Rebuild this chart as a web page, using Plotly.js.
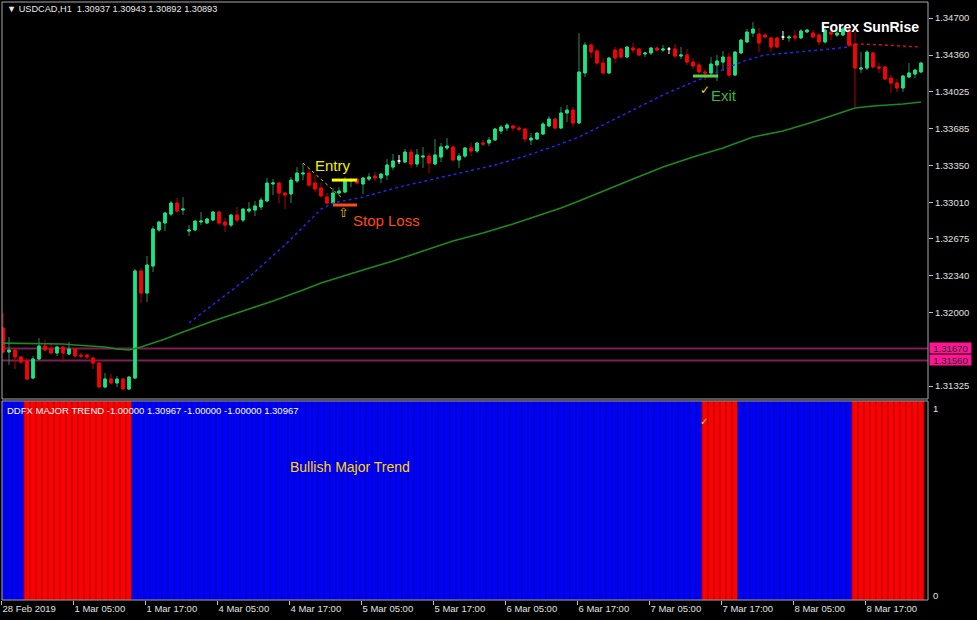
<!DOCTYPE html>
<html><head><meta charset="utf-8">
<script src="https://cdn.plot.ly/plotly-3.0.1.min.js"></script>
<style>html,body{margin:0;padding:0;background:#000;}#chart{width:977px;height:620px;}</style>
</head><body><div id="chart"></div>
<script>
// ---- DATA (USDCAD H1, bar index 0..153) ----
const openP = [1.31857,1.31637,1.31655,1.31591,1.31554,1.31398,1.31573,1.31692,1.31664,1.31628,
1.31683,1.31618,1.31664,1.31609,1.31609,1.31582,1.31536,1.31316,1.31389,1.31353,
1.31389,1.31298,1.31398,1.32380,1.32178,1.32425,1.32756,1.32820,1.32902,1.33003,
1.32939,1.32746,1.32756,1.32829,1.32820,1.32847,1.32921,1.32829,1.32801,1.32893,
1.32847,1.32930,1.32939,1.32967,1.33022,1.33178,1.33187,1.33095,1.33086,1.33205,
1.33269,1.33278,1.33187,1.33141,1.33058,1.33003,1.33095,1.33104,1.33205,1.33223,
1.33178,1.33223,1.33251,1.33233,1.33260,1.33333,1.33389,1.33379,1.33471,1.33361,
1.33425,1.33434,1.33361,1.33425,1.33508,1.33517,1.33398,1.33434,1.33508,1.33480,
1.33554,1.33554,1.33581,1.33664,1.33691,1.33710,1.33691,1.33682,1.33581,1.33590,
1.33636,1.33710,1.33774,1.33691,1.33829,1.33856,1.33737,1.34196,1.34452,1.34397,
1.34287,1.34196,1.34406,1.34416,1.34342,1.34425,1.34416,1.34370,1.34379,1.34425,
1.34406,1.34416,1.34416,1.34351,1.34361,1.34296,1.34269,1.34205,1.34196,1.34269,
1.34296,1.34342,1.34177,1.34379,1.34480,1.34562,1.34553,1.34544,1.34517,1.34517,
1.34526,1.34517,1.34535,1.34517,1.34572,1.34562,1.34544,1.34480,1.34572,1.34544,
1.34544,1.34590,1.34462,1.34232,1.34241,1.34379,1.34251,1.34251,1.34150,1.34104,
1.34058,1.34159,1.34186,1.34205];
const highP = [1.31994,1.31774,1.31673,1.31600,1.31582,1.31600,1.31765,1.31747,1.31710,1.31692,
1.31692,1.31729,1.31673,1.31628,1.31618,1.31591,1.31545,1.31444,1.31435,1.31417,
1.31398,1.31417,1.32398,1.32407,1.32517,1.32792,1.32838,1.32921,1.33022,1.33049,
1.33058,1.32801,1.32847,1.32921,1.32866,1.32930,1.32930,1.32866,1.32902,1.32967,
1.32957,1.33012,1.33022,1.33058,1.33233,1.33223,1.33196,1.33104,1.33242,1.33333,
1.33370,1.33324,1.33260,1.33187,1.33095,1.33141,1.33150,1.33242,1.33233,1.33233,
1.33242,1.33278,1.33288,1.33278,1.33407,1.33453,1.33444,1.33499,1.33499,1.33499,
1.33517,1.33462,1.33590,1.33554,1.33599,1.33526,1.33462,1.33517,1.33554,1.33563,
1.33581,1.33609,1.33691,1.33719,1.33737,1.33719,1.33710,1.33691,1.33645,1.33654,
1.33746,1.33801,1.33783,1.33884,1.33902,1.33884,1.34562,1.34480,1.34462,1.34416,
1.34333,1.34342,1.34434,1.34425,1.34443,1.34471,1.34425,1.34388,1.34434,1.34434,
1.34452,1.34434,1.34462,1.34434,1.34416,1.34333,1.34296,1.34232,1.34342,1.34361,
1.34397,1.34379,1.34397,1.34507,1.34599,1.34663,1.34608,1.34562,1.34526,1.34526,
1.34581,1.34544,1.34590,1.34599,1.34599,1.34590,1.34562,1.34617,1.34617,1.34590,
1.34617,1.34617,1.34572,1.34388,1.34406,1.34388,1.34287,1.34260,1.34177,1.34141,
1.34177,1.34287,1.34232,1.34296];
const lowP = [1.31618,1.31518,1.31481,1.31527,1.31380,1.31389,1.31563,1.31646,1.31618,1.31600,
1.31545,1.31609,1.31591,1.31582,1.31573,1.31481,1.31307,1.31307,1.31343,1.31316,
1.31288,1.31288,1.31389,1.32086,1.32095,1.32370,1.32737,1.32746,1.32884,1.32912,
1.32893,1.32701,1.32746,1.32801,1.32811,1.32838,1.32801,1.32737,1.32783,1.32829,
1.32829,1.32912,1.32884,1.32939,1.33012,1.33077,1.33003,1.32948,1.33003,1.33187,
1.33214,1.33150,1.33104,1.33058,1.32994,1.32994,1.33077,1.33095,1.33150,1.33178,
1.33086,1.33205,1.33205,1.33187,1.33214,1.33306,1.33361,1.33370,1.33324,1.33333,
1.33324,1.33278,1.33352,1.33379,1.33489,1.33389,1.33324,1.33416,1.33434,1.33462,
1.33526,1.33526,1.33572,1.33636,1.33664,1.33664,1.33664,1.33563,1.33535,1.33581,
1.33627,1.33700,1.33682,1.33682,1.33746,1.33700,1.33728,1.34159,1.34333,1.34269,
1.34186,1.34186,1.34287,1.34333,1.34333,1.34379,1.34351,1.34342,1.34361,1.34397,
1.34388,1.34370,1.34333,1.34324,1.34269,1.34232,1.34196,1.34131,1.34177,1.34122,
1.34214,1.34159,1.34168,1.34370,1.34471,1.34526,1.34388,1.34517,1.34388,1.34425,
1.34498,1.34480,1.34489,1.34507,1.34562,1.34517,1.34452,1.34471,1.34498,1.34526,
1.34535,1.34434,1.33884,1.34196,1.34223,1.34241,1.34196,1.34131,1.34012,1.34021,
1.34021,1.34150,1.34150,1.34196];
const closeP = [1.31637,1.31655,1.31591,1.31545,1.31389,1.31573,1.31692,1.31655,1.31628,1.31683,
1.31628,1.31664,1.31600,1.31600,1.31591,1.31536,1.31316,1.31389,1.31353,1.31389,
1.31298,1.31407,1.32380,1.32178,1.32435,1.32765,1.32829,1.32912,1.33003,1.32930,
1.32948,1.32756,1.32838,1.32838,1.32857,1.32921,1.32820,1.32801,1.32893,1.32847,
1.32948,1.32948,1.32976,1.33031,1.33187,1.33187,1.33095,1.33077,1.33214,1.33278,
1.33278,1.33168,1.33132,1.33068,1.33003,1.33095,1.33113,1.33214,1.33214,1.33187,
1.33233,1.33242,1.33233,1.33269,1.33352,1.33389,1.33389,1.33471,1.33361,1.33444,
1.33434,1.33370,1.33444,1.33517,1.33526,1.33398,1.33434,1.33508,1.33480,1.33554,
1.33544,1.33581,1.33682,1.33700,1.33719,1.33691,1.33682,1.33590,1.33599,1.33645,
1.33728,1.33774,1.33691,1.33829,1.33856,1.33737,1.34205,1.34452,1.34388,1.34287,
1.34196,1.34333,1.34333,1.34342,1.34434,1.34406,1.34361,1.34379,1.34425,1.34406,
1.34416,1.34416,1.34351,1.34361,1.34296,1.34260,1.34205,1.34196,1.34278,1.34306,
1.34342,1.34177,1.34388,1.34498,1.34572,1.34599,1.34471,1.34526,1.34434,1.34434,
1.34526,1.34526,1.34517,1.34581,1.34590,1.34526,1.34480,1.34590,1.34553,1.34562,
1.34599,1.34452,1.34241,1.34241,1.34388,1.34251,1.34241,1.34141,1.34104,1.34058,
1.34168,1.34196,1.34223,1.34287];

// slow MA (green, solid)
const slowMaBars = [0,10,12,17,19,21,23,25,27,30,35,40,45,50,53,60,65,70,75,80,85,90,93,96,100,105,110,115,120,125,130,135,140,142,145,150,153];
const slowMaValues = [1.31719,1.31710,1.31701,1.31683,1.31664,1.31655,1.31683,1.31719,1.31756,1.31820,1.31921,1.32013,1.32105,1.32205,1.32270,1.32389,1.32471,1.32563,1.32655,1.32728,1.32811,1.32902,1.32957,1.33022,1.33113,1.33223,1.33333,1.33425,1.33508,1.33609,1.33664,1.33746,1.33838,1.33875,1.33893,1.33911,1.33930];
// trend MA, bullish part (blue dotted)
const trendMaBlueBars = [31,36,41,47,50,53,55,60,66,71,77,82,87,92,96,100,105,110,115,118,121,124,127,131,136,141];
const trendMaBlueValues = [1.31903,1.32114,1.32325,1.32618,1.32783,1.32948,1.33003,1.33058,1.33150,1.33214,1.33288,1.33352,1.33434,1.33526,1.33609,1.33719,1.33856,1.33994,1.34113,1.34177,1.34251,1.34315,1.34361,1.34379,1.34406,1.34434];
// trend MA, bearish part (red dotted)
const trendMaRedBars = [141,143,147,150,153];
const trendMaRedValues = [1.34452,1.34462,1.34452,1.34443,1.34434];

// DDFX major trend: +1 bullish (blue), -1 bearish (red)
const majorTrend = [];
for (let i = 0; i < 154; i++) majorTrend.push((i>=4&&i<=21)||(i>=117&&i<=122)||(i>=142) ? -1 : 1);

const priceTicks = [1.34700,1.34360,1.34025,1.33685,1.33350,1.33010,1.32675,1.32340,1.32000,1.31325];
const timeTickBars = [0,12,24,36,48,60,72,84,96,108,120,132,144];
const timeTickLabels = ["28 Feb 2019","1 Mar 05:00","1 Mar 17:00","4 Mar 05:00","4 Mar 17:00","5 Mar 05:00","5 Mar 17:00","6 Mar 05:00","6 Mar 17:00","7 Mar 05:00","7 Mar 17:00","8 Mar 05:00","8 Mar 17:00"];
const levelLines = [1.31670, 1.31560];

// ---- BUILD ----
const N = openP.length;
const idx = [...Array(N).keys()];
const isDoji = idx.map(i => openP[i] === closeP[i]);
const pick = (arr, cond) => idx.map(i => cond(i) ? arr[i] : null);
const notD = i => !isDoji[i], yesD = i => isDoji[i];

const wick = {type:'candlestick', x:idx, open:pick(openP,notD), high:pick(highP,notD), low:pick(lowP,notD), close:pick(closeP,notD),
  increasing:{line:{color:'#2e8b57',width:1}, fillcolor:'#2e8b57'},
  decreasing:{line:{color:'#b80000',width:1}, fillcolor:'#b80000'}, hoverinfo:'skip', xaxis:'x', yaxis:'y'};
const bodyHi = idx.map(i => Math.max(openP[i], closeP[i]));
const bodyLo = idx.map(i => Math.min(openP[i], closeP[i]));
const body = {type:'candlestick', x:idx, open:pick(openP,notD), high:pick(bodyHi,notD), low:pick(bodyLo,notD), close:pick(closeP,notD),
  increasing:{line:{color:'#14e886',width:1}, fillcolor:'#14e886'},
  decreasing:{line:{color:'#ff0000',width:1}, fillcolor:'#ff0000'}, hoverinfo:'skip', xaxis:'x', yaxis:'y'};
const doji = {type:'candlestick', x:idx, open:pick(openP,yesD), high:pick(highP,yesD), low:pick(lowP,yesD), close:pick(closeP,yesD),
  increasing:{line:{color:'#ffffff',width:1}, fillcolor:'#ffffff'},
  decreasing:{line:{color:'#ffffff',width:1}, fillcolor:'#ffffff'}, hoverinfo:'skip', xaxis:'x', yaxis:'y'};

const slowMa = {type:'scatter', mode:'lines', x:slowMaBars, y:slowMaValues, line:{color:'#1c8a1c', width:1.6}, xaxis:'x', yaxis:'y', hoverinfo:'skip'};
const trendBlue = {type:'scatter', mode:'lines', x:trendMaBlueBars, y:trendMaBlueValues, line:{color:'#2626ff', width:1.4, dash:'dot'}, xaxis:'x', yaxis:'y', hoverinfo:'skip'};
const trendRed = {type:'scatter', mode:'lines', x:trendMaRedBars, y:trendMaRedValues, line:{color:'#e01010', width:1.4, dash:'dot'}, xaxis:'x', yaxis:'y', hoverinfo:'skip'};

const trendBars = {type:'bar', x:idx, y:majorTrend.map(() => 1), base:0, width:1, xaxis:'x', yaxis:'y2', hoverinfo:'skip',
  marker:{color:majorTrend.map(v => v > 0 ? '#0000ff' : '#ff0000'),
          line:{width:1, color:majorTrend.map(v => v > 0 ? '#00009a' : '#a80000')}}};

const mainDom = [0.3361, 1], subDom = [0, 0.3328];
const F = 'Liberation Sans, Arial, sans-serif';

const shapes = [
  {type:'rect', xref:'paper', yref:'paper', x0:0, x1:1, y0:mainDom[0], y1:mainDom[1], line:{color:'#a8a8a8', width:1}},
  {type:'rect', xref:'paper', yref:'paper', x0:0, x1:1, y0:subDom[0], y1:subDom[1], line:{color:'#a8a8a8', width:1}},
];
levelLines.forEach(v => shapes.push({type:'line', xref:'paper', yref:'y', x0:0, x1:1, y0:v, y1:v, line:{color:'#7d1f52', width:2}, layer:'below'}));
// trade markers
shapes.push({type:'line', xref:'x', yref:'y', x0:50, x1:56.7, y0:1.33370, y1:1.33040, line:{color:'#d8c000', width:1, dash:'dot'}});
shapes.push({type:'line', xref:'x', yref:'y', x0:54.8, x1:59, y0:1.33214, y1:1.33214, line:{color:'#ffff00', width:3}});
shapes.push({type:'line', xref:'x', yref:'y', x0:55, x1:59, y0:1.32985, y1:1.32985, line:{color:'#ff4a10', width:3}});
shapes.push({type:'line', xref:'x', yref:'y', x0:115, x1:119.2, y0:1.34168, y1:1.34168, line:{color:'#5fcf3f', width:3}});

const annotations = [
  {xref:'paper', yref:'paper', x:0.0032, y:0.9883, xanchor:'left', yanchor:'middle', showarrow:false,
   text:'▼\u00a0USDCAD,H1\u00a0\u00a01.30937\u00a01.30943\u00a01.30892\u00a01.30893', font:{family:F, size:9.2, color:'#e8e8e8'}},
  {xref:'paper', yref:'paper', x:0.9374, y:0.9582, xanchor:'center', yanchor:'middle', showarrow:false,
   text:'<b>Forex SunRise</b>', font:{family:F, size:14, color:'#ffffff'}},
  {xref:'x', yref:'y', x:55, y:1.33352, xanchor:'center', yanchor:'middle', showarrow:false, text:'Entry', font:{family:F, size:15, color:'#f0f000'}},
  {xref:'x', yref:'y', x:56.8, y:1.32912, xanchor:'center', yanchor:'middle', showarrow:false, text:'⇧', font:{family:'DejaVu Sans', size:13, color:'#d8b800'}},
  {xref:'x', yref:'y', x:64, y:1.32847, xanchor:'center', yanchor:'middle', showarrow:false, text:'Stop Loss', font:{family:F, size:15, color:'#ff4a10'}},
  {xref:'x', yref:'y', x:117, y:1.34040, xanchor:'center', yanchor:'middle', showarrow:false, text:'✓', font:{family:'DejaVu Sans', size:12, color:'#e8e000'}},
  {xref:'x', yref:'y', x:120.2, y:1.33994, xanchor:'center', yanchor:'middle', showarrow:false, text:'Exit', font:{family:F, size:15, color:'#3cb43c'}},
  {xref:'paper', yref:'paper', x:0.0032, y:0.3177, xanchor:'left', yanchor:'middle', showarrow:false,
   text:'DDFX\u00a0MAJOR\u00a0TREND\u00a0-1.00000\u00a01.30967\u00a0-1.00000\u00a0-1.00000\u00a01.30967', font:{family:F, size:9.5, color:'#ffffff'}},
  {xref:'paper', yref:'paper', x:0.3758, y:0.2224, xanchor:'center', yanchor:'middle', showarrow:false, text:'Bullish Major Trend', font:{family:F, size:14, color:'#ffd700'}},
  {xref:'paper', yref:'paper', x:0.758, y:0.2977, xanchor:'center', yanchor:'middle', showarrow:false, text:'✓', font:{family:'DejaVu Sans', size:10, color:'#e8e000'}},
  {xref:'paper', yref:'paper', x:1, y:0.3194, xanchor:'left', yanchor:'middle', xshift:3, showarrow:false, text:'1', font:{family:F, size:9.5, color:'#e0e0e0'}},
  {xref:'paper', yref:'paper', x:1, y:0.0067, xanchor:'left', yanchor:'middle', xshift:3, showarrow:false, text:'0', font:{family:F, size:9.5, color:'#e0e0e0'}},
];
levelLines.forEach(v => annotations.push({xref:'paper', yref:'y', x:1, y:v, xanchor:'left', yanchor:'middle', xshift:1, showarrow:false,
  text:v.toFixed(5), bgcolor:'#ff1493', borderpad:0, width:41, height:10, font:{family:F, size:9.5, color:'#2a2a2a'}}));

const layout = {
  width:977, height:620, paper_bgcolor:'#000000', plot_bgcolor:'#000000',
  margin:{l:2, r:49, t:2, b:20}, showlegend:false, boxmode:'overlay', boxgap:0.4, bargap:0,
  font:{family:F, size:9.5, color:'#e0e0e0'},
  xaxis:{anchor:'y2', range:[-0.167, 154.17], showgrid:false, zeroline:false, rangeslider:{visible:false},
    tickmode:'array', tickvals:timeTickBars.map(b => b - 0.17), ticktext:timeTickLabels, ticks:'outside', ticklen:4, tickcolor:'#c0c0c0',
    ticklabelposition:'outside right', showline:false, tickfont:{family:F, size:9.5, color:'#e0e0e0'}},
  yaxis:{domain:mainDom, side:'right', anchor:'x', range:[1.31206, 1.34847], showgrid:false, zeroline:false,
    tickmode:'array', tickvals:priceTicks, ticktext:priceTicks.map(v => v.toFixed(5)), ticks:'outside', ticklen:4, tickcolor:'#c0c0c0',
    showline:false, tickfont:{family:F, size:9.5, color:'#e0e0e0'}},
  yaxis2:{domain:subDom, side:'right', anchor:'x', range:[0, 1], showgrid:false, zeroline:false,
    showticklabels:false, ticks:'', showline:false},
  shapes, annotations
};

Plotly.newPlot('chart', [trendBars, slowMa, trendBlue, trendRed, wick, body, doji], layout, {staticPlot:true, displayModeBar:false});
</script>
</body></html>
